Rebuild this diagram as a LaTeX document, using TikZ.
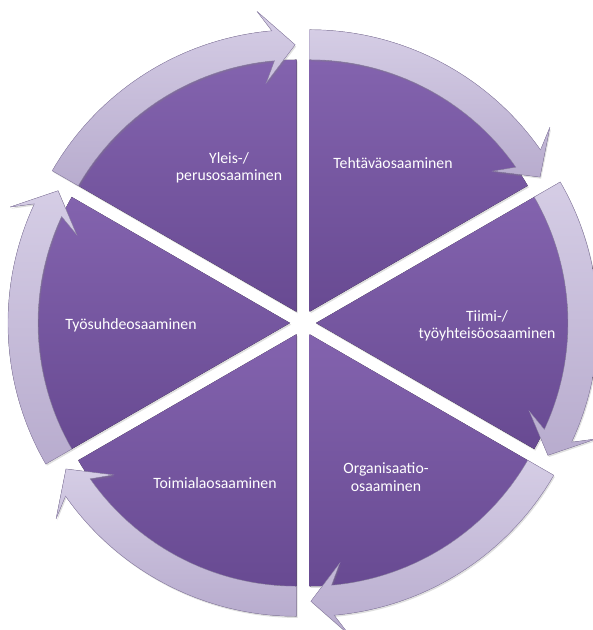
\documentclass[tikz,border=0pt]{standalone}
\usepackage{fontspec}
\setmainfont{Carlito}
\usetikzlibrary{shadows}

\definecolor{slicetop}{HTML}{8363AE}
\definecolor{slicebot}{HTML}{684A92}
\definecolor{ringtop}{HTML}{D5CDE5}
\definecolor{ringbot}{HTML}{B8ACCE}
\definecolor{ringedge}{HTML}{9A8DB4}

\tikzset{
  slice/.style={top color=slicetop, bottom color=slicebot,
    drop shadow={opacity=0.25, shadow xshift=0.8pt, shadow yshift=-1.2pt}},
  ring/.style={top color=ringtop, bottom color=ringbot, draw=ringedge, line width=0.3pt,
    drop shadow={opacity=0.25, shadow xshift=0.8pt, shadow yshift=-1.2pt}},
  slicetext/.style={text=white, align=center, font=\fontsize{11.2}{12.4}\selectfont}
}

\begin{document}
\begin{tikzpicture}[x=0.025cm, y=0.025cm]
\useasboundingbox (-303,-307) rectangle (289,323);

\fill[slice] (60:13) -- ++(30:252) arc[start angle=30, end angle=90, radius=252] -- cycle;
\fill[slice] (0:13) -- ++(-30:252) arc[start angle=-30, end angle=30, radius=252] -- cycle;
\fill[slice] (-60:13) -- ++(-90:252) arc[start angle=-90, end angle=-30, radius=252] -- cycle;
\fill[slice] (240:13) -- ++(210:252) arc[start angle=210, end angle=270, radius=252] -- cycle;
\fill[slice] (180:13) -- ++(150:252) arc[start angle=150, end angle=210, radius=252] -- cycle;
\fill[slice] (120:13) -- ++(90:252) arc[start angle=90, end angle=150, radius=252] -- cycle;

\filldraw[ring, shift={(60:13)}] (90:282) arc[start angle=90, end angle=35, radius=282] -- (37.5:303) -- (30.3:267) -- (37.5:231) -- (35:252) arc[start angle=35, end angle=90, radius=252] -- cycle;
\filldraw[ring, shift={(0:13)}] (30:282) arc[start angle=30, end angle=-25, radius=282] -- (-22.5:303) -- (-29.7:267) -- (-22.5:231) -- (-25:252) arc[start angle=-25, end angle=30, radius=252] -- cycle;
\filldraw[ring, shift={(-60:13)}] (-30:282) arc[start angle=-30, end angle=-85, radius=282] -- (-82.5:303) -- (-89.7:267) -- (-82.5:231) -- (-85:252) arc[start angle=-85, end angle=-30, radius=252] -- cycle;
\filldraw[ring, shift={(240:13)}] (270:282) arc[start angle=270, end angle=215, radius=282] -- (217.5:303) -- (210.3:267) -- (217.5:231) -- (215:252) arc[start angle=215, end angle=270, radius=252] -- cycle;
\filldraw[ring, shift={(180:13)}] (210:282) arc[start angle=210, end angle=155, radius=282] -- (157.5:303) -- (150.3:267) -- (157.5:231) -- (155:252) arc[start angle=155, end angle=210, radius=252] -- cycle;
\filldraw[ring, shift={(120:13)}] (150:282) arc[start angle=150, end angle=95, radius=282] -- (97.5:303) -- (90.3:267) -- (97.5:231) -- (95:252) arc[start angle=95, end angle=150, radius=252] -- cycle;

\node[slicetext] (yleis) at (-74,155) {Yleis-/\\perusosaaminen};
\node[slicetext] (tehtava) at (90,160) {Tehtäväosaaminen};
\node[slicetext] (tiimi) at (184,-3) {Tiimi-/\\työyhteisöosaaminen};
\node[slicetext] (tyosuhde) at (-172,-2) {Työsuhdeosaaminen};
\node[slicetext] (toimiala) at (-88,-160) {Toimialaosaaminen};
\node[slicetext] (organisaatio) at (83,-154) {Organisaatio-\\osaaminen};

\end{tikzpicture}
\end{document}
